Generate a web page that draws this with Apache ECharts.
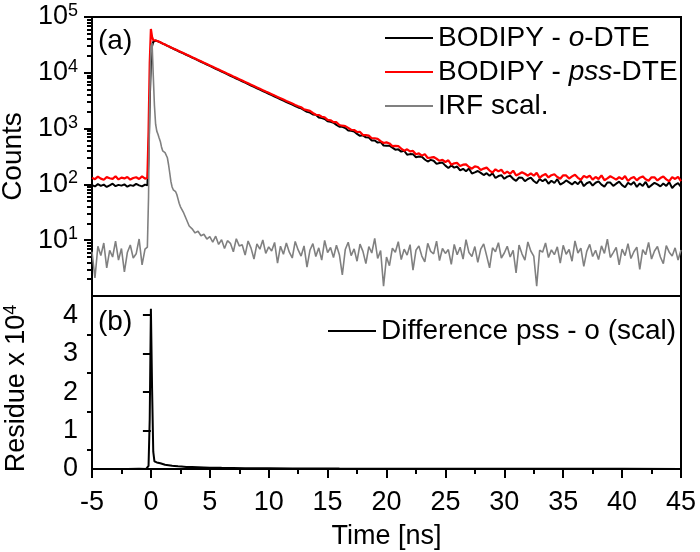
<!DOCTYPE html>
<html><head><meta charset="utf-8">
<script src="https://cdn.jsdelivr.net/npm/echarts@6.0.0/dist/echarts.min.js"></script>
<style>html,body{margin:0;padding:0;background:#fff}#c{width:700px;height:552px}</style>
</head><body><div id="c"></div>
<script>
// time axis (ns)
const time = [
  -5,-4.75,-4.5,-4.25,-4,-3.75,-3.5,-3.25,-3,-2.75,-2.5,-2.25,-2,-1.75,-1.5,-1.25,-1,-0.75,-0.5,
  -0.3,-0.2,-0.1,0,0.1,0.2,0.3,0.4,0.5,0.6,0.7,0.8,0.9,1,1.1,1.2,1.3,1.4,1.5,1.6,1.7,1.8,1.9,2,2.1,2.2,2.3,2.4,2.5,
  2.75,3,3.25,3.5,3.75,4,4.25,4.5,
  4.75,5,5.25,5.5,5.75,6,6.25,6.5,
  6.75,7,7.25,7.5,7.75,8,8.25,8.5,
  8.75,9,9.25,9.5,9.75,10,10.25,10.5,
  10.75,11,11.25,11.5,11.75,12,12.25,12.5,
  12.75,13,13.25,13.5,13.75,14,14.25,14.5,
  14.75,15,15.25,15.5,15.75,16,16.25,16.5,
  16.75,17,17.25,17.5,17.75,18,18.25,18.5,
  18.75,19,19.25,19.5,19.75,20,20.25,20.5,
  20.75,21,21.25,21.5,21.75,22,22.25,22.5,
  22.75,23,23.25,23.5,23.75,24,24.25,24.5,
  24.75,25,25.25,25.5,25.75,26,26.25,26.5,
  26.75,27,27.25,27.5,27.75,28,28.25,28.5,
  28.75,29,29.25,29.5,29.75,30,30.25,30.5,
  30.75,31,31.25,31.5,31.75,32,32.25,32.5,
  32.75,33,33.25,33.5,33.75,34,34.25,34.5,
  34.75,35,35.25,35.5,35.75,36,36.25,36.5,
  36.75,37,37.25,37.5,37.75,38,38.25,38.5,
  38.75,39,39.25,39.5,39.75,40,40.25,40.5,
  40.75,41,41.25,41.5,41.75,42,42.25,42.5,
  42.75,43,43.25,43.5,43.75,44,44.25,44.5,
  44.75,45
];

// BODIPY - o-DTE (counts)
const oDTE = [
  97,92,101,94,99,90,96,103,93,98,95,100,91,97,94,102,96,92,99,
  96,300,3000,15000,30000,36000,37500,37800,37500,36640,35800,34970,34170,33380,32620,31870,31130,30420,29720,29030,28370,27710,27080,26450,25850,25250,24670,24100,23550,
  22315,21060,19875,18758,17703,16708,15770,14885,
  14049,13261,12517,11815,11153,10528,9939,9383,
  8858,8363,7896,7455,7039,6647,6277,5928,
  5598,5288,4994,4718,4457,4210,3978,3759,
  3552,3357,3173,2999,2835,2680,2534,2396,
  2306,2150,1996,1940,1796,1764,1579,1541,
  1486,1351,1323,1275,1164,1079,1078,1023,
  926,911,890,805,742,757,697,691,
  610,613,561,576,498,494,494,457,
  419,425,387,401,341,349,348,306,
  315,314,280,257,275,265,233,242,
  246,217,197,219,200,209,178,190,
  172,192,157,164,174,161,147,159,
  143,159,130,141,146,126,138,143,
  126,116,133,132,114,125,132,115,
  105,125,114,124,103,116,106,124,
  99,106,118,109,100,112,101,117,
  93,105,111,95,107,113,99,91,
  108,108,94,103,112,97,89,107,
  99,110,90,104,94,111,88,97,
  107,100,92,104,94,110,86,98,
  105,90
];

// BODIPY - pss-DTE (counts)
const pssDTE = [
  131,124,138,127,121,135,129,126,140,123,132,128,136,122,130,134,125,139,127,
  130,900,15000,61000,44000,38500,38200,38000,37700,36850,36000,35200,34400,33600,32850,32100,31370,30650,29960,29280,28610,27960,27330,26710,26100,25510,24930,24360,23810,
  22602,21347,20162,19044,17987,16990,16048,15159,
  14319,13527,12778,12072,11405,10775,10180,9619,
  9089,8588,8116,7670,7249,6851,6475,6120,
  5785,5469,5171,4889,4623,4372,4135,3911,
  3700,3500,3312,3134,2966,2807,2657,2516,
  2411,2216,2148,2074,1903,1768,1754,1630,
  1589,1434,1409,1303,1301,1158,1127,1107,
  1029,953,943,869,871,766,763,746,
  672,671,656,595,551,566,542,486,
  489,487,437,402,425,392,398,347,
  359,328,349,297,301,309,288,265,
  276,252,270,226,239,243,213,226,
  229,205,191,210,205,181,192,200,
  177,163,186,171,183,156,170,155,
  176,145,154,165,155,143,157,143,
  161,131,145,153,133,146,152,136,
  126,146,145,127,139,149,131,121,
  142,133,144,122,136,125,145,119,
  128,140,131,122,135,124,141,115,
  129,136,118,132,139,124,116,134,
  134,118,130,139,123,114,135,125,
  137,115
];

// IRF scal. (counts)
const irf = [
  6.2,2.1,7.8,5.3,8.9,3.2,6.6,5.0,9.6,4.4,7.1,2.7,6.0,8.2,4.8,5.7,10.5,3.6,6.9,
  7.5,60,3000,30000,34000,9000,2600,1200,900,790,680,590,470,400,375,372,355,300,225,160,112,90,80,77,74,66,55,46,40,
  32,24,18,16,13.5,14.5,12,12.8,10.5,11.6,
  9.2,11.8,8.4,10.2,7.1,9.8,8.8,6.2,10.6,7.9,
  8.3,5.4,9.7,7.2,4.6,8.6,6.9,10.1,5.8,7.6,
  6.4,9.1,3.9,7.8,5.6,8.9,6.1,4.8,9.5,6.7,
  5.2,7.9,3.3,6.6,8.7,5.1,7.3,4.4,9.9,6.0,
  7.4,4.9,8.1,5.5,2.4,6.8,9.2,5.3,7.0,4.2,
  8.5,6.3,3.8,7.7,5.9,10.8,4.7,6.5,1.5,5.0,
  3.5,7.2,6.1,9.4,4.5,6.9,5.4,8.3,2.9,6.6,
  7.9,5.2,4.1,8.8,6.3,5.7,9.6,4.3,7.1,5.8,
  6.8,3.7,8.4,5.5,7.5,4.6,10.2,6.0,5.1,7.7,
  4.0,6.9,8.6,5.3,3.2,7.3,6.2,9.0,4.8,5.9,
  7.8,5.0,6.6,2.6,8.2,5.7,4.4,9.3,6.4,5.2,
  1.5,6.6,6.1,8.9,4.9,6.7,5.5,7.6,3.9,8.1,
  5.6,6.8,4.2,9.7,5.9,7.2,3.4,6.3,8.4,5.1,
  6.6,4.5,7.9,5.8,10.4,4.9,6.0,7.4,3.6,6.9,
  5.3,8.7,4.7,6.2,7.5,3.0,6.8,5.5,9.1,4.6,
  6.4,7.7,5.0,3.8,8.0,6.1,5.2,7.3,4.4,6.7
];

// Difference pss - o (scal), in units of 10^4
const diffTime = [-5,-4,-3,-2,-1,-0.4,-0.3,-0.2,-0.1,0,0.1,0.2,0.3,0.4,0.5,0.6,0.8,1,1.2,1.5,1.8,2,2.3,2.6,3,3.5,4,4.5,5,6,7,8,9,10,12,14,16,18,20,25,30,35,40,45];
const diffVal  = [0.003,-0.004,0.002,-0.003,0.004,0.002,0.01,0.08,1.3,4.17,2.1,0.45,0.2,0.18,0.17,0.16,0.15,0.13,0.11,0.1,0.085,0.08,0.07,0.065,0.055,0.05,0.045,0.04,0.035,0.03,0.028,0.022,0.02,0.018,0.015,0.012,0.01,0.009,0.008,0.006,0.005,0.004,0.004,0.003];

// tick labels and panel labels
const decadeExponents = [1,2,3,4,5];
const residueTicks = [0,1,2,3,4];
const residueMinor = [0.5,1.5,2.5,3.5];
const panelLabels = ['(a)', '(b)'];
const seriesNames = ['BODIPY - o-DTE','BODIPY - pss-DTE','IRF scal.','Difference pss - o (scal)'];

if (time.length !== oDTE.length || time.length !== pssDTE.length || time.length !== irf.length) {
  console.error('length mismatch', time.length, oDTE.length, pssDTE.length, irf.length);
}

const FONT = '"Liberation Sans", Arial, sans-serif';
const K = '#000';
const line2 = {color: K, width: 2};
const minorLog = [];
for (let n = 0; n < 5; n++) for (let k = 2; k <= 9; k++) minorLog.push(n + Math.log10(k));
const pairs = (xs, ys) => xs.map((x, i) => [x, ys[i]]);
const legendFmt = name => name.replace(/ - (o|pss)-/, ' - {i|$1}-');
const legendText = {fontSize: 28, fontFamily: FONT, color: K, lineHeight: 32,
  rich: {i: {fontSize: 28, fontFamily: FONT, color: K, fontStyle: 'italic', lineHeight: 32}}};
const panelText = {fontSize: 28, fontWeight: 'normal', fontFamily: FONT, color: K};

const chart = echarts.init(document.getElementById('c'), null, {renderer: 'canvas'});
chart.setOption({
  animation: false,
  backgroundColor: '#fff',
  title: [
    {text: panelLabels[0], left: 98, top: 27, padding: 0, textStyle: panelText},
    {text: panelLabels[1], left: 98, top: 308, padding: 0, textStyle: panelText}
  ],
  grid: [
    {left: 92, top: 17, width: 589, height: 279, show: true, borderColor: K, borderWidth: 2, outerBoundsMode: 'none', containLabel: false},
    {left: 92, top: 296, width: 589, height: 173, show: true, borderColor: K, borderWidth: 2, outerBoundsMode: 'none', containLabel: false}
  ],
  xAxis: [
    {type: 'value', gridIndex: 0, min: -5, max: 45, show: false},
    {type: 'value', gridIndex: 1, min: -5, max: 45, interval: 5, position: 'bottom',
      axisLine: {show: true, lineStyle: line2},
      axisTick: {show: true, length: 9, lineStyle: line2},
      minorTick: {show: true, splitNumber: 2, length: 5, lineStyle: line2},
      splitLine: {show: false}, minorSplitLine: {show: false},
      axisLabel: {fontSize: 27, color: K, fontFamily: FONT, margin: 20},
      name: 'Time [ns]', nameLocation: 'middle', nameGap: 54,
      nameTextStyle: {fontSize: 27, color: K, fontFamily: FONT}}
  ],
  yAxis: [
    {type: 'log', gridIndex: 0, min: 1, max: 100000, logBase: 10, show: false, position: 'left'},
    {type: 'value', gridIndex: 0, min: 0, max: 5, interval: 1, position: 'left', offset: 0,
      axisLine: {show: false}, splitLine: {show: false},
      axisTick: {show: true, length: 8, lineStyle: line2, customValues: decadeExponents},
      axisLabel: {show: true, customValues: decadeExponents, margin: 14,
        formatter: v => '{b|10}{s|' + v + '}',
        rich: {b: {fontSize: 27, fontFamily: FONT, color: K, lineHeight: 30},
               s: {fontSize: 18, fontFamily: FONT, color: K, lineHeight: 12, verticalAlign: 'top'}}},
      name: 'Counts', nameLocation: 'middle', nameGap: 64,
      nameTextStyle: {fontSize: 28, color: K, fontFamily: FONT}},
    {type: 'value', gridIndex: 0, min: 0, max: 5, position: 'left', offset: 0,
      axisLine: {show: false}, splitLine: {show: false}, axisLabel: {show: false},
      axisTick: {show: true, length: 5, lineStyle: line2, customValues: minorLog}},
    {type: 'value', gridIndex: 1, min: 0, max: 4.5, position: 'left', offset: 0,
      axisLine: {show: false}, splitLine: {show: false},
      axisTick: {show: true, length: 8, lineStyle: line2, customValues: residueTicks},
      axisLabel: {show: true, customValues: residueTicks, margin: 14, fontSize: 27, color: K, fontFamily: FONT},
      name: '{n|Residue x 10}{s|4}', nameLocation: 'middle', nameGap: 60,
      nameTextStyle: {fontSize: 27, color: K, fontFamily: FONT, lineHeight: 30, padding: [0, 12, 0, 0],
        rich: {n: {fontSize: 27, fontFamily: FONT, color: K, lineHeight: 30},
               s: {fontSize: 18, fontFamily: FONT, color: K, lineHeight: 12, verticalAlign: 'top'}}}},
    {type: 'value', gridIndex: 1, min: 0, max: 4.5, position: 'left', offset: 0,
      axisLine: {show: false}, splitLine: {show: false}, axisLabel: {show: false},
      axisTick: {show: true, length: 5, lineStyle: line2, customValues: residueMinor}}
  ],
  legend: [
    {data: seriesNames.slice(0, 3).map(n => ({name: n, icon: 'rect'})), orient: 'vertical', left: 380, top: 17,
      itemWidth: 48, itemHeight: 2, itemGap: 2, selectedMode: false,
      formatter: legendFmt, textStyle: legendText},
    {data: [{name: seriesNames[3], icon: 'rect'}], orient: 'vertical', left: 323, top: 310,
      itemWidth: 48, itemHeight: 2, itemGap: 2, selectedMode: false,
      textStyle: legendText}
  ],
  series: [
    {name: seriesNames[0], type: 'line', xAxisIndex: 0, yAxisIndex: 0, data: pairs(time, oDTE),
      symbol: 'none', showSymbol: false, silent: true, lineStyle: {color: '#000000', width: 2}, itemStyle: {color: '#000000'}},
    {name: seriesNames[1], type: 'line', xAxisIndex: 0, yAxisIndex: 0, data: pairs(time, pssDTE),
      symbol: 'none', showSymbol: false, silent: true, lineStyle: {color: '#ff0000', width: 2.2}, itemStyle: {color: '#ff0000'}},
    {name: seriesNames[2], type: 'line', xAxisIndex: 0, yAxisIndex: 0, data: pairs(time, irf),
      symbol: 'none', showSymbol: false, silent: true, lineStyle: {color: '#808080', width: 1.6}, itemStyle: {color: '#808080'}},
    {name: seriesNames[3], type: 'line', xAxisIndex: 1, yAxisIndex: 3, data: pairs(diffTime, diffVal),
      symbol: 'none', showSymbol: false, silent: true, lineStyle: {color: '#000000', width: 2}, itemStyle: {color: '#000000'}}
  ]
});
</script>
</body></html>
